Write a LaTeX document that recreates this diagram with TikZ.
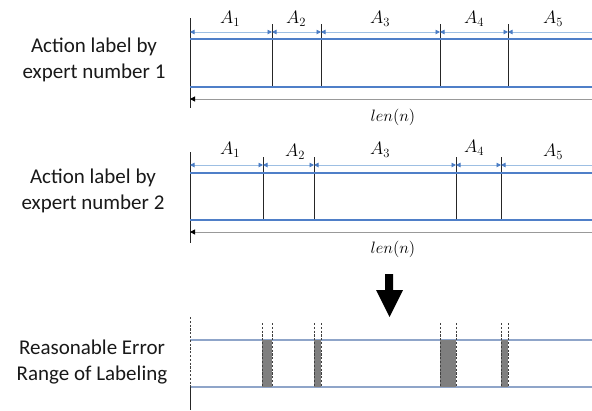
\RequirePackage{fix-cm}
\documentclass[tikz,border=0pt]{standalone}
\usepackage{fontspec}
\setmainfont{Carlito}
\usetikzlibrary{arrows.meta}

\definecolor{dimtip}{HTML}{4A7CC4}
\definecolor{dimline}{HTML}{9DBFE3}
\definecolor{trackblue}{HTML}{4F7FC8}
\definecolor{rangeblue}{HTML}{8FA5C9}
\definecolor{errgray}{HTML}{7F7F7F}

\tikzset{
  sidetext/.style={font=\fontsize{21}{26}\selectfont, align=center, text=black!90},
  seglabel/.style={font=\fontsize{18}{21}\selectfont},
  lenlabel/.style={font=\fontsize{16.5}{19}\selectfont},
  dimarrow/.style={dimline, line width=0.9pt,
    {Triangle[length=4.5pt,width=4.5pt,color=dimtip]}-{Triangle[length=4.5pt,width=4.5pt,color=dimtip]}},
  dimopen/.style={dimline, line width=0.9pt,
    {Triangle[length=4.5pt,width=4.5pt,color=dimtip]}-},
  axisline/.style={black!85, line width=1pt},
  bound/.style={black!85, line width=0.9pt},
  track/.style={trackblue, line width=1.2pt},
  rangetrack/.style={rangeblue, line width=1.2pt},
  lenarrow/.style={black!40, line width=1pt,
    {Triangle[length=5pt,width=5pt,color=black]}-},
  errdash/.style={black!75, line width=0.9pt, dash pattern=on 2.2pt off 1.6pt},
  errbox/.style={fill=errgray, draw=none},
}

\begin{document}
\begin{tikzpicture}[x=1pt, y=-1pt]
\useasboundingbox (0,0) rectangle (592,410);

% ---------- panel 1: expert 1 ----------
\node[sidetext] (t1) at (94,60) {Action label by\\expert number 1};
\foreach \x [count=\i] in {190,272,321,440,508,592} {
  \coordinate (a\i) at (\x,32);
}
\coordinate (p1top) at (190,18);
\coordinate (p1bot) at (190,108);
\draw[axisline] (p1top) -- (p1bot);
\foreach \x in {272,321,440,508} { \draw[bound] (\x,24) -- (\x,87); }
\draw[track] (190,39) -- (592,39);
\draw[track] (190,87) -- (592,87);
\draw[dimarrow] (a1) -- (a2);
\draw[dimarrow] (a2) -- (a3);
\draw[dimarrow] (a3) -- (a4);
\draw[dimarrow] (a4) -- (a5);
\draw[dimopen] (a5) -- (a6);
\coordinate (l1r) at (592,99);
\coordinate (l1l) at (190,99);
\draw[lenarrow] (l1l) -- (l1r);
\node[seglabel] (s11) at (230,19) {$A_1$};
\node[seglabel] (s12) at (296,19) {$A_2$};
\node[seglabel] (s13) at (380,19) {$A_3$};
\node[seglabel] (s14) at (474,19) {$A_4$};
\node[seglabel] (s15) at (553,19) {$A_5$};
\node[lenlabel] (n1) at (393,117) {$len(n)$};

% ---------- panel 2: expert 2 ----------
\node[sidetext] (t2) at (93,191) {Action label by\\expert number 2};
\foreach \x [count=\i] in {190,263,314,456,501,592} {
  \coordinate (b\i) at (\x,165);
}
\coordinate (p2top) at (190,152);
\coordinate (p2bot) at (190,243);
\draw[axisline] (p2top) -- (p2bot);
\foreach \x in {263,314,456,501} { \draw[bound] (\x,157) -- (\x,220); }
\draw[track] (190,173) -- (592,173);
\draw[track] (190,220) -- (592,220);
\draw[dimarrow] (b1) -- (b2);
\draw[dimarrow] (b2) -- (b3);
\draw[dimarrow] (b3) -- (b4);
\draw[dimarrow] (b4) -- (b5);
\draw[dimopen] (b5) -- (b6);
\coordinate (l2r) at (592,232);
\coordinate (l2l) at (190,232);
\draw[lenarrow] (l2l) -- (l2r);
\node[seglabel] (s21) at (230,150) {$A_1$};
\node[seglabel] (s22) at (295,152) {$A_2$};
\node[seglabel] (s23) at (380,150) {$A_3$};
\node[seglabel] (s24) at (474,148) {$A_4$};
\node[seglabel] (s25) at (553,152) {$A_5$};
\node[lenlabel] (n2) at (393,249) {$len(n)$};

% ---------- down arrow ----------
\fill[black] (385,274) -- (393,274) -- (393,290) -- (403,290) -- (389.5,317)
  -- (376,290) -- (385,290) -- cycle;

% ---------- panel 3: error range ----------
\node[sidetext] (t3) at (92,362) {Reasonable Error\\Range of Labeling};
\draw[rangetrack] (190,340) -- (592,340);
\draw[rangetrack] (190,387) -- (592,387);
\foreach \l/\r in {262/272, 314/321, 440/456, 501/508} {
  \fill[errbox] (\l,340) rectangle (\r,387);
  \draw[errdash] (\l,323) -- (\l,387);
  \draw[errdash] (\r,323) -- (\r,387);
}
\draw[errdash] (190,317) -- (190,387);
\draw[axisline] (190,387) -- (190,410);
\end{tikzpicture}
\end{document}
